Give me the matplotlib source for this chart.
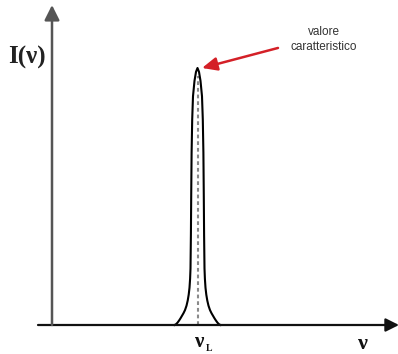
import matplotlib.pyplot as plt
import numpy as np

# line centre and half-profile of the emission peak (ν measured from the origin)
nu_L = 145.5
half_offsets = [0, 1.5, 3, 4.5, 5.3, 5.9, 6.3, 6.6, 7.0, 7.4, 8.0, 8.8,
                9.8, 11, 12.5, 14, 15.5, 17, 18.5, 20, 21.5, 23]
half_heights = [1.0, 0.985, 0.95, 0.89, 0.80, 0.67, 0.50, 0.35, 0.22, 0.18,
                0.145, 0.118, 0.095, 0.075, 0.058, 0.046, 0.036, 0.026,
                0.017, 0.009, 0.003, 0.0]
dash_top = 0.97

ylabel = "I(ν)"
xlabel = "ν"
peak_label = "ν"
peak_sub = "L"
note = "valore\ncaratteristico"

# mirror the half profile around ν_L
off = np.array(half_offsets)
hgt = np.array(half_heights)
nu = nu_L + np.concatenate([-off[::-1], off[1:]])
intensity = np.concatenate([hgt[::-1], hgt[1:]])

fig = plt.figure(figsize=(3.98, 3.54), dpi=100)
ax = fig.add_axes([0, 0, 1, 1])
ax.set_xlim(-52, 346)
ax.set_ylim(-29 / 257, 325 / 257)
ax.axis("off")

# axes with arrow heads
ax.annotate("", xy=(347, 0), xytext=(-14, 0), annotation_clip=False,
            arrowprops=dict(arrowstyle="-|>,head_length=0.8,head_width=0.4",
                            color="#111111", lw=1.6, shrinkA=0, shrinkB=0,
                            mutation_scale=10))
ax.annotate("", xy=(0, 1.245), xytext=(0, 0), annotation_clip=False,
            arrowprops=dict(arrowstyle="-|>,head_length=0.9,head_width=0.45",
                            color="#555555", lw=1.8, shrinkA=0, shrinkB=0,
                            mutation_scale=10))

# peak and its centre line
ax.plot([nu_L, nu_L], [0, dash_top], color="#8a8a8a", lw=1.5,
        dashes=(1.8, 1.4))
ax.plot(nu, intensity, color="black", lw=1.5, solid_joinstyle="round")

# labels
ax.text(-25, 1.04, ylabel, ha="center", va="center", fontsize=18,
        fontweight="bold", family="Liberation Serif", color="#222222")
ax.text(311, -0.072, xlabel, ha="center", va="center", fontsize=16,
        fontweight="bold", family="Liberation Serif", color="#111111")
ax.text(nu_L + 1, -0.066, peak_label, ha="center", va="center", fontsize=15,
        fontweight="bold", family="Liberation Serif", color="#111111")
ax.text(nu_L + 11.5, -0.092, peak_sub, ha="center", va="center", fontsize=7,
        fontweight="bold", family="Liberation Serif", color="#111111")

# annotation pointing at the peak
ax.annotate("", xy=(150, 1.0), xytext=(226, 1.078),
            arrowprops=dict(arrowstyle="-|>,head_length=0.9,head_width=0.4",
                            color="#d42027", lw=1.8, shrinkA=0, shrinkB=0,
                            mutation_scale=10))
ax.text(272, 1.11, note, ha="center", va="center", fontsize=8.5,
        family="Liberation Sans", color="#333333", linespacing=1.35)

fig.savefig("out.png", dpi=100)
